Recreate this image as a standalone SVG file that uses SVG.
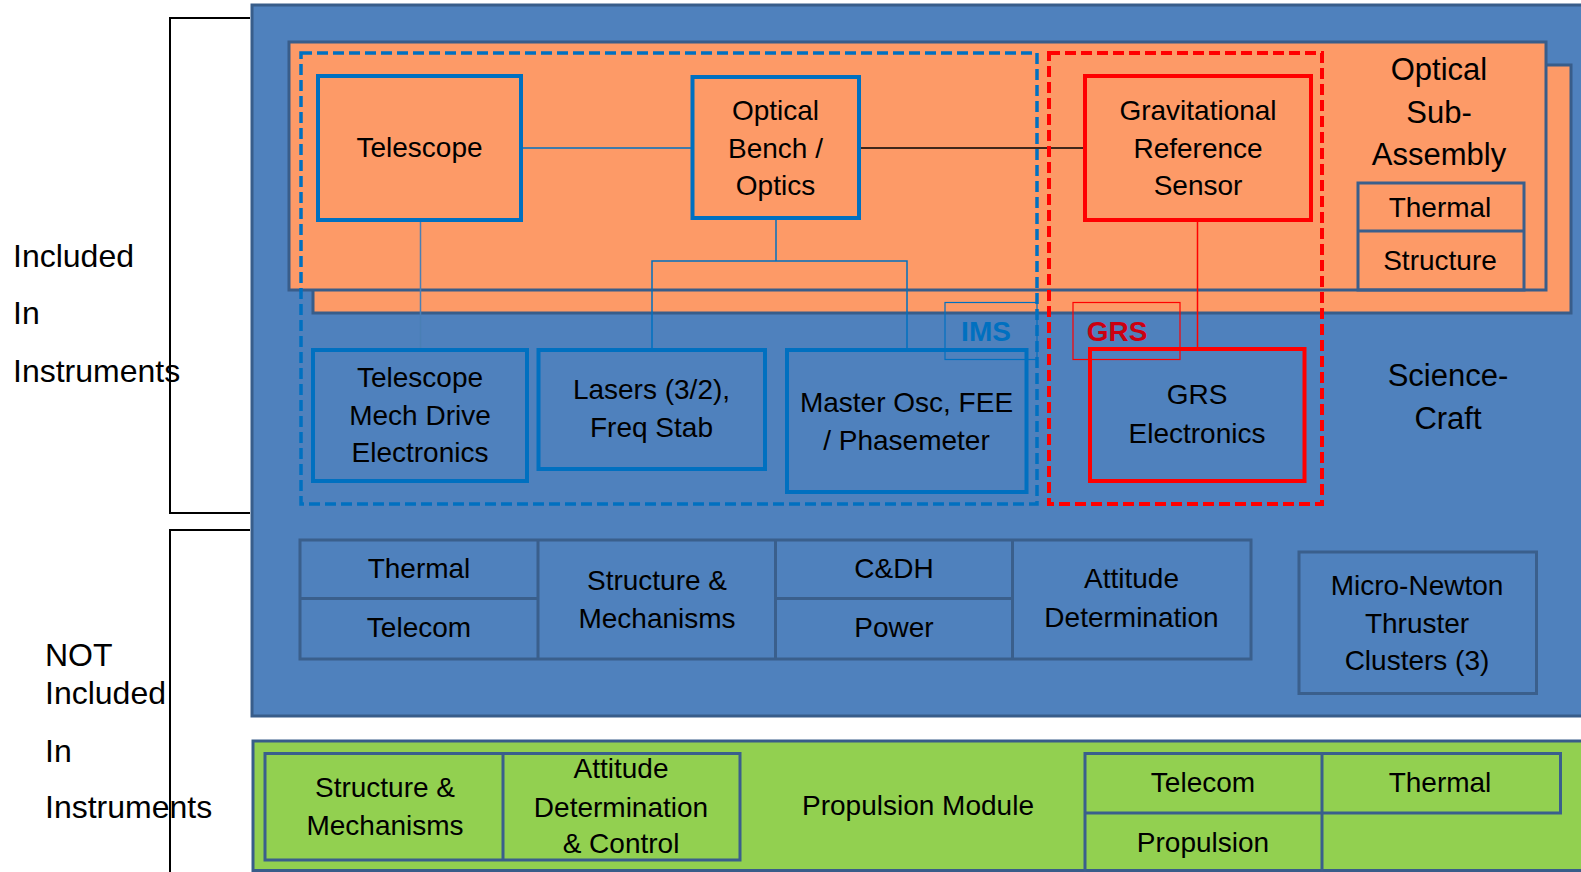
<svg xmlns="http://www.w3.org/2000/svg" width="1581" height="872" viewBox="0 0 1581 872">
<style>
text{font-family:"Liberation Sans",Arial,sans-serif;fill:#000;text-anchor:middle}
.t{font-size:28px}
.big{font-size:31px}
.side{font-size:32px;text-anchor:start}
.panel{stroke:#385d8a;stroke-width:3}
.cell{fill:none;stroke:#3a5f8c;stroke-width:3}
.bn{stroke:#0070c0;stroke-width:4}
.rn{stroke:#ff0000;stroke-width:4}
.or{fill:#fd9a67}
.bl{fill:#4f81bd}
.gr{fill:#92d050}
.con{fill:none;stroke-width:1.5}
</style>
<g id="brackets" fill="none" stroke="#000" stroke-width="2">
<path d="M250,18 H170 V513 H250"/>
<path d="M250,530 H170 V872"/>
</g>
<g id="side-labels">
<text class="side" x="13" y="267">Included</text>
<text class="side" x="13" y="324">In</text>
<text class="side" x="13" y="382">Instruments</text>
<text class="side" x="45" y="666">NOT</text>
<text class="side" x="45" y="704">Included</text>
<text class="side" x="45" y="762">In</text>
<text class="side" x="45" y="818">Instruments</text>
</g>
<g id="science-craft">
<rect class="bl panel" x="252" y="5" width="1340" height="711"/>
<text class="big" x="1448" y="386">Science-</text>
<text class="big" x="1448" y="429">Craft</text>
</g>
<g id="optical-sub-assembly">
<rect class="or panel" x="313" y="65" width="1258" height="248"/>
<rect class="or panel" x="289" y="42" width="1257" height="248"/>
<text class="big" x="1439" y="80">Optical</text>
<text class="big" x="1439" y="123">Sub-</text>
<text class="big" x="1439" y="165">Assembly</text>
</g>
<g id="osa-thermal-structure">
<rect class="cell" x="1358" y="183" width="166" height="107"/>
<line class="cell" x1="1358" y1="231" x2="1524" y2="231"/>
<text class="t" x="1440" y="217">Thermal</text>
<text class="t" x="1440" y="270">Structure</text>
</g>
<g id="connectors">
<line class="con" stroke="#0070c0" x1="521" y1="148" x2="692" y2="148"/>
<line class="con" stroke="#4a7fb5" x1="420.5" y1="220" x2="420.5" y2="350"/>
<path class="con" stroke="#0070c0" d="M776,218 V261 M652,350 V261 H907 V350"/>
<line class="con" stroke="#000" x1="860" y1="148" x2="1085" y2="148"/>
<line class="con" stroke="#ff0000" x1="1197.5" y1="220" x2="1197.5" y2="349"/>
</g>
<g id="ims">
<rect x="301" y="53" width="736" height="451" fill="none" stroke="#0070c0" stroke-width="3.5" stroke-dasharray="11 5"/>
</g>
<g id="grs">
<rect x="1049" y="53" width="273" height="451" fill="none" stroke="#ff0000" stroke-width="4" stroke-dasharray="11 5"/>
</g>
<g id="telescope">
<rect class="or bn" x="318" y="76" width="203" height="144"/>
<text class="t" x="419.5" y="157">Telescope</text>
</g>
<g id="optical-bench">
<rect class="or bn" x="692.5" y="77" width="166.5" height="141"/>
<text class="t" x="775.5" y="120">Optical</text>
<text class="t" x="775.5" y="158">Bench /</text>
<text class="t" x="775.5" y="195">Optics</text>
</g>
<g id="grs-sensor">
<rect class="or rn" x="1085" y="76" width="226" height="144"/>
<text class="t" x="1198" y="120">Gravitational</text>
<text class="t" x="1198" y="158">Reference</text>
<text class="t" x="1198" y="195">Sensor</text>
</g>
<g id="telescope-mech-drive">
<rect class="bl bn" x="313" y="350" width="214" height="131"/>
<text class="t" x="420" y="387">Telescope</text>
<text class="t" x="420" y="425">Mech Drive</text>
<text class="t" x="420" y="462">Electronics</text>
</g>
<g id="lasers">
<rect class="bl bn" x="538.5" y="350" width="226.5" height="119"/>
<text class="t" x="651.5" y="399">Lasers (3/2),</text>
<text class="t" x="651.5" y="437">Freq Stab</text>
</g>
<g id="master-osc">
<rect class="bl bn" x="787" y="350" width="239.5" height="142"/>
<text class="t" x="906.5" y="412">Master Osc, FEE</text>
<text class="t" x="906.5" y="450">/ Phasemeter</text>
</g>
<g id="grs-electronics">
<rect class="bl rn" x="1090" y="349" width="214.5" height="132"/>
<text class="t" x="1197" y="404">GRS</text>
<text class="t" x="1197" y="443">Electronics</text>
</g>
<g id="ims-label">
<rect x="945" y="302.5" width="92" height="57" fill="none" stroke="#0070c0" stroke-width="1.2"/>
<text x="986" y="341" style="font-size:28px;font-weight:bold;fill:#0070c0">IMS</text>
</g>
<g id="grs-label">
<rect x="1073" y="302.5" width="107" height="57" fill="none" stroke="#ff0000" stroke-width="1.2"/>
<text x="1117" y="341" style="font-size:28px;font-weight:bold;fill:#cc0011">GRS</text>
</g>
<g id="sc-subsystems">
<rect class="cell" x="300" y="540" width="951" height="119"/>
<path class="cell" d="M538,540 V659 M775.5,540 V659 M1012.5,540 V659 M300,598.5 H538 M775.5,598.5 H1012.5"/>
<text class="t" x="419" y="578">Thermal</text>
<text class="t" x="419" y="637">Telecom</text>
<text class="t" x="657" y="590">Structure &amp;</text>
<text class="t" x="657" y="628">Mechanisms</text>
<text class="t" x="894" y="578">C&amp;DH</text>
<text class="t" x="894" y="637">Power</text>
<text class="t" x="1131.5" y="588">Attitude</text>
<text class="t" x="1131.5" y="627">Determination</text>
</g>
<g id="micro-newton">
<rect class="cell" x="1299" y="552" width="237.5" height="141.5"/>
<text class="t" x="1417" y="595">Micro-Newton</text>
<text class="t" x="1417" y="633">Thruster</text>
<text class="t" x="1417" y="670">Clusters (3)</text>
</g>
<g id="propulsion-module">
<rect class="gr panel" x="253" y="741" width="1340" height="129.5"/>
<text class="t" x="918" y="815">Propulsion Module</text>
</g>
<g id="pm-structure-adc">
<rect class="cell" x="265" y="753.5" width="475" height="106.5"/>
<line class="cell" x1="503" y1="753.5" x2="503" y2="860"/>
<text class="t" x="385" y="797">Structure &amp;</text>
<text class="t" x="385" y="835">Mechanisms</text>
<text class="t" x="621" y="778">Attitude</text>
<text class="t" x="621" y="817">Determination</text>
<text class="t" x="621" y="853">&amp; Control</text>
</g>
<g id="pm-telecom-thermal-propulsion">
<path class="cell" d="M1085,872 V753.5 H1560.5 V813 H1085 M1322,753.5 V872"/>
<text class="t" x="1203" y="792">Telecom</text>
<text class="t" x="1440" y="792">Thermal</text>
<text class="t" x="1203" y="852">Propulsion</text>
</g>
</svg>
